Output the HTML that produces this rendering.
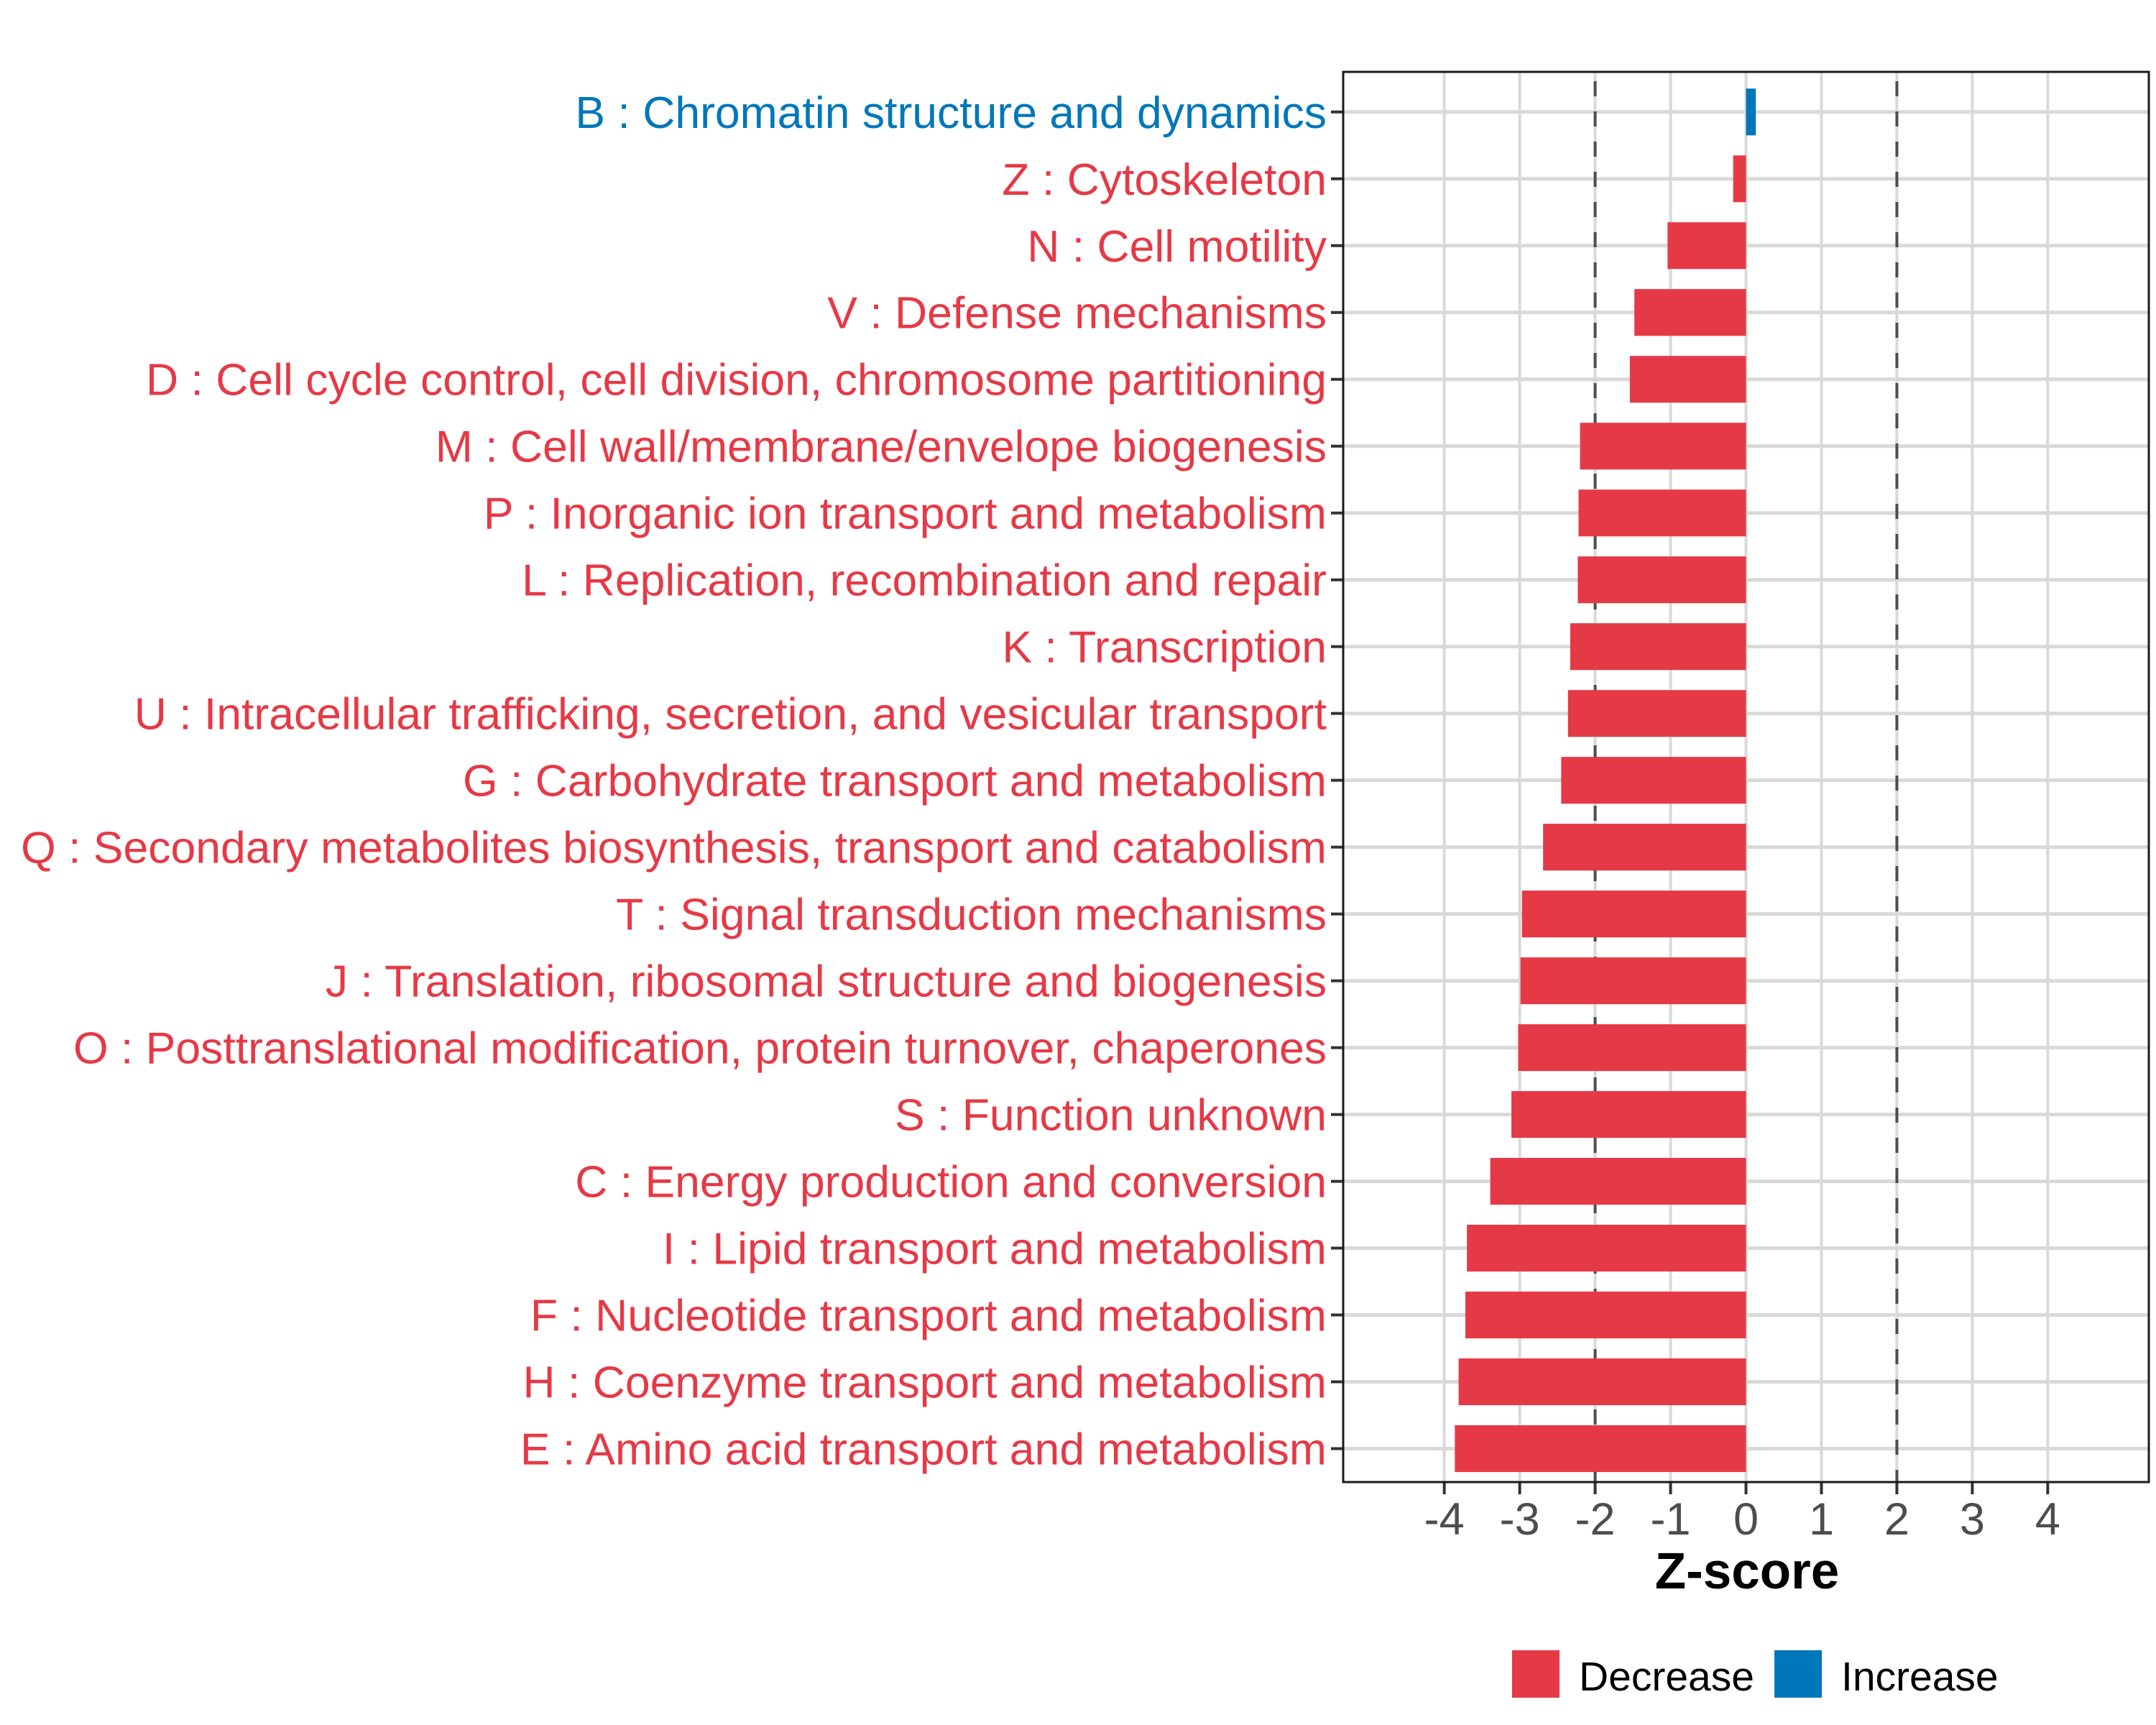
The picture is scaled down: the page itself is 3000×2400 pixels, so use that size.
<!DOCTYPE html>
<html><head><meta charset="utf-8"><style>
html,body{margin:0;padding:0;background:#fff}
svg{display:block;font-family:"Liberation Sans",sans-serif}
</style></head><body>
<svg id="chart" width="3000" height="2400" viewBox="0 0 3000 2400" xmlns="http://www.w3.org/2000/svg">
<rect width="3000" height="2400" fill="#fff"/>
<g id="grid"></g>
<g id="bars"></g>
<g id="ylabels"></g>
<g id="xaxis"></g>
<text x="2431" y="2210" text-anchor="middle" font-size="71" font-weight="bold" fill="#000">Z-score</text>
<g>
<rect x="2104" y="2296" width="66" height="66" fill="#E63946"/>
<text x="2197" y="2352" font-size="57" fill="#000">Decrease</text>
<rect x="2469" y="2296" width="66" height="66" fill="#0077BB"/>
<text x="2562" y="2352" font-size="57" fill="#000">Increase</text>
</g>
</svg>
<script>
const categories = ["B : Chromatin structure and dynamics","Z : Cytoskeleton","N : Cell motility","V : Defense mechanisms","D : Cell cycle control, cell division, chromosome partitioning","M : Cell wall/membrane/envelope biogenesis","P : Inorganic ion transport and metabolism","L : Replication, recombination and repair","K : Transcription","U : Intracellular trafficking, secretion, and vesicular transport","G : Carbohydrate transport and metabolism","Q : Secondary metabolites biosynthesis, transport and catabolism","T : Signal transduction mechanisms","J : Translation, ribosomal structure and biogenesis","O : Posttranslational modification, protein turnover, chaperones","S : Function unknown","C : Energy production and conversion","I : Lipid transport and metabolism","F : Nucleotide transport and metabolism","H : Coenzyme transport and metabolism","E : Amino acid transport and metabolism"];
const zscores = [0.13,-0.17,-1.04,-1.48,-1.54,-2.2,-2.22,-2.23,-2.33,-2.36,-2.45,-2.69,-2.97,-2.99,-3.02,-3.11,-3.39,-3.7,-3.72,-3.81,-3.86];
const xTicks = [-4,-3,-2,-1,0,1,2,3,4];
const xTickLabels = ["-4","-3","-2","-1","0","1","2","3","4"];
const thresholds = [-2,2];

const NS="http://www.w3.org/2000/svg";
const P={l:1869,r:2990,t:100,b:2062};
const xMin=-5.34,xMax=5.34;
const x=v=>P.l+(v-xMin)/(xMax-xMin)*(P.r-P.l);
const step=(P.b-P.t)/(categories.length+0.1);
const y=i=>P.t+step*(i+0.6);
function mk(tag,attrs,parent){const e=document.createElementNS(NS,tag);for(const k in attrs)e.setAttribute(k,attrs[k]);parent.appendChild(e);return e;}
const grid=document.getElementById('grid'),bars=document.getElementById('bars'),yl=document.getElementById('ylabels'),xa=document.getElementById('xaxis');
xTicks.forEach((t,i)=>{
  const g=mk('line',{x1:x(t),x2:x(t),y1:P.t,y2:P.b,stroke:'#d9d9d9','stroke-width':4},grid);
  
  
  const tk=mk('line',{x1:x(t),x2:x(t),y1:P.b,y2:P.b+17,stroke:'#333','stroke-width':4},xa);
  
  
  const tl=mk('text',{x:x(t),y:2135,'text-anchor':'middle','font-size':63,fill:'#4d4d4d'},xa);
  tl.textContent=xTickLabels[i];
  
  
});
categories.forEach((c,i)=>{
  const g=mk('line',{x1:P.l,x2:P.r,y1:y(i),y2:y(i),stroke:'#d9d9d9','stroke-width':5},grid);
  
  
});
thresholds.forEach(t=>{
  const d=mk('line',{x1:x(t),x2:x(t),y1:P.t,y2:P.b,stroke:'#4d4d4d','stroke-width':4,'stroke-dasharray':'21 21','stroke-dashoffset':'-13'},grid);
  
  
});
const bh=step*0.7;
categories.forEach((c,i)=>{
  const v=zscores[i];const col=v>=0?'#0077BB':'#E63946';
  const r=mk('rect',{x:Math.min(x(0),x(v)),y:y(i)-bh/2,width:Math.abs(x(v)-x(0)),height:bh,fill:col},bars);
  
  
  const tk=mk('line',{x1:P.l-17,x2:P.l,y1:y(i),y2:y(i),stroke:'#333','stroke-width':4},yl);
  
  
  const t=mk('text',{x:P.l-23,y:y(i)+22,'text-anchor':'end','font-size':62.5,fill:col},yl);
  t.textContent=c;
  
  
});
const border=mk('rect',{x:P.l,y:P.t,width:P.r-P.l,height:P.b-P.t,fill:'none',stroke:'#1a1a1a','stroke-width':3},document.getElementById('chart'));


</script>
</body></html>
